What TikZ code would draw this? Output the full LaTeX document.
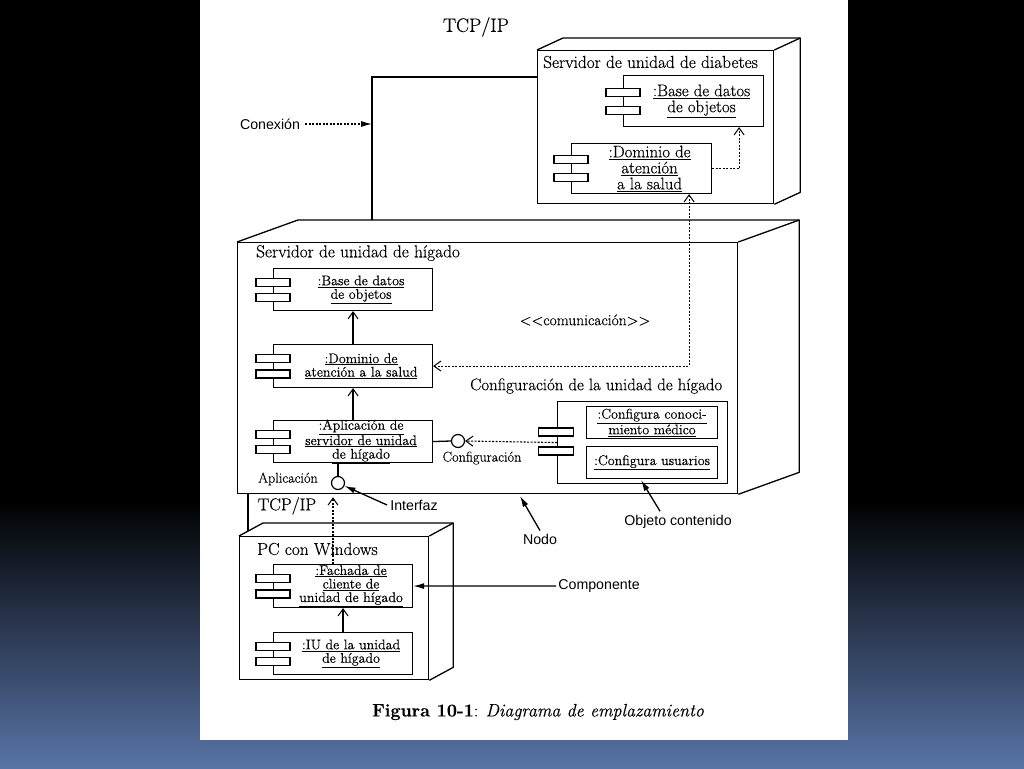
\documentclass[tikz,border=0pt]{standalone}
\usepackage{fontspec}
\setmainfont{Latin Modern Roman}[FakeBold=0.35]
\setsansfont{Liberation Sans}
\usetikzlibrary{arrows.meta,calc}
\definecolor{bgblue}{RGB}{88,116,166}
\newcommand\fTitle{\fontsize{17.3}{19}\selectfont}
\newcommand\fTop{\fontsize{19.5}{22}\selectfont}
\newcommand\fTcp{\fontsize{17.3}{19}\selectfont}
\newcommand\fCompA{\fontsize{16.8}{16}\selectfont}
\newcommand\fCompB{\fontsize{14}{13.5}\selectfont}
\newcommand\fLbl{\fontsize{14.2}{15}\selectfont}
\newcommand\fSans{\fontsize{14.2}{15}\selectfont\sffamily}
\newcommand\fCfg{\fontsize{16.8}{18}\selectfont}
\newcommand\fCom{\fontsize{15.5}{17}\selectfont}
\newcommand\fCap{\fontsize{18}{20}\selectfont}
\newcommand\ul[1]{\underline{#1}}
\tikzset{
  compbox/.style={draw, line width=1.1pt, anchor=north west, inner sep=0pt, align=center, fill=white},
  comptext/.style={inner sep=0pt, align=center},
  barbox/.style={draw, line width=1.1pt, fill=white, minimum width=34pt, minimum height=8pt, inner sep=0pt},
  face/.style={draw, line width=1.3pt, anchor=north west, inner sep=0pt},
  edge3d/.style={line width=1.3pt, line join=round},
  link/.style={line width=1.3pt},
  dep/.style={line width=1.1pt, dash pattern=on 2pt off 1.5pt},
  openhead/.style={-{Straight Barb[length=7pt,width=10pt,line width=1pt]}},
  bothhead/.style={{Straight Barb[length=7pt,width=10pt,line width=1pt]}-{Straight Barb[length=7pt,width=10pt,line width=1pt]}},
  fillhead/.style={-{Latex[length=11pt,width=6pt]}},
  iface/.style={circle, draw, line width=1.2pt, minimum size=13pt, inner sep=0pt, fill=white},
  lbl/.style={font=\fLbl, inner sep=0pt},
  sanslbl/.style={font=\fSans, inner sep=0pt},
}
\newcommand\comp[7]{%
  \node[compbox, minimum width=#4pt, minimum height=#5pt] (#1) at (#2,#3) {};
  \node[comptext, font=#6] (#1-t) at ($(#1.center)+(8,0)$) {#7};
  \node[barbox] (#1-b1) at ($(#1.north west)!0.33!(#1.south west)$) {};
  \node[barbox] (#1-b2) at ($(#1.north west)!0.68!(#1.south west)$) {};
}
\newcommand\nodeBox[7]{%
  \node[face, minimum width=#4pt, minimum height=#5pt] (#1) at (#2,#3) {};
  \draw[edge3d] (#1.north west) -- ++(#6,#7) -- ($(#1.north east)+(#6,#7)$) -- ($(#1.south east)+(#6,#7)$) -- (#1.south east);
  \draw[edge3d] (#1.north east) -- ++(#6,#7);
}
\begin{document}
\begin{tikzpicture}[x=1pt,y=-1pt]
\useasboundingbox (0,0) rectangle (1024,768);
\fill[black] (0,0) rectangle (1024,768);
\shade[top color=black, bottom color=bgblue] (0,500) rectangle (1024,768);
\fill[white] (200,0) rectangle (848,740);

% ---------- nodes (3D boxes) ----------
\nodeBox{diab}{537}{50}{236}{153}{26}{-12}
\nodeBox{hig}{237}{242}{500}{251}{61}{-22}
\nodeBox{pc}{239}{536}{189}{143}{24}{-13}

% ---------- titles ----------
\node[font=\fTop, inner sep=0pt] (tcpTop) at (476,27) {TCP/IP};
\node[font=\fTitle, anchor=west, inner sep=0pt] (tDiab) at (543,62) {Servidor de unidad de diabetes};
\node[font=\fTitle, anchor=west, inner sep=0pt] (tHig) at (256,253) {Servidor de unidad de hígado};
\node[font=\fTitle, anchor=west, inner sep=0pt] (tPC) at (257,549) {PC con Windows};
\node[font=\fTcp, inner sep=0pt] (tcpLow) at (287,506) {TCP/IP};
\node[font=\fCfg, anchor=west, inner sep=0pt] (tCfg) at (470,386) {Configuración de la unidad de hígado};
\node[font=\fCom, inner sep=0pt] (tCom) at (585,320) {<\kern0pt<comunicación>\kern0pt>};

% ---------- components ----------
\comp{dBase}{623}{75}{140}{51}{\fCompA}{\ul{:Base de datos}\\\ul{de objetos}}
\comp{dDom}{571}{143}{140}{50}{\fCompA}{\ul{:Dominio de}\\\ul{atención}\\\ul{a la salud}}
\comp{hBase}{273}{268}{159}{42}{\fCompB}{\ul{:Base de datos}\\\ul{de objetos}}
\comp{hDom}{273}{344}{159}{43}{\fCompB}{\ul{:Dominio de}\\\ul{atención a la salud}}
\comp{hApp}{273}{420}{159}{42}{\fCompB}{\ul{:Aplicación de}\\\ul{servidor de unidad}\\\ul{de hígado}}
\comp{pcF}{273}{564}{139}{43}{\fCompB}{\ul{:Fachada de}\\\ul{cliente de}\\\ul{unidad de hígado}}
\comp{pcIU}{273}{632}{139}{42}{\fCompB}{\ul{:IU de la unidad}\\\ul{de hígado}}

% configuration component with contained objects
\node[compbox, minimum width=170pt, minimum height=82pt] (cfg) at (557,401) {};
\node[compbox, minimum width=131pt, minimum height=32pt, font=\fCompB] (cfgK) at (586,406) {\ul{:Configura conoci-}\\\ul{miento médico}};
\node[compbox, minimum width=131pt, minimum height=32pt, font=\fCompB] (cfgU) at (586,446) {\ul{:Configura usuarios}};

% interfaces
\node[iface] (iconf) at (458,441) {};
\node[iface] (iapp) at (338,483) {};
\node[lbl] (lConf) at (482,458) {Configuración};
\node[lbl] (lApp) at (288,479) {Aplicación};
\draw[link] (hApp.east) -- (iconf.west);
\coordinate (appB) at (338,462);
\draw[link] (appB) -- (iapp.north);
\draw[dep, openhead] (cfg.west) -- (iconf.east);
\node[barbox, minimum width=35pt] (cfg-b1) at (556,432) {};
\node[barbox, minimum width=35pt] (cfg-b2) at (556,451) {};

% ---------- connections ----------
\coordinate (tcpA) at (537,77);
\coordinate (tcpB) at (372,220);
\draw[link] (tcpA) -| (tcpB);
\coordinate (tcpC) at (248,531);
\draw[link] (tcpC) -- (tcpC |- hig.south);

\draw[dep, openhead] (dDom.east) -| ($(dBase.south east)+(-25,0)$);
\draw[dep, bothhead] ($(dDom.south east)+(-23,0)$) |- (hDom.east);
\draw[link, openhead] (hDom.north) -- (hBase.south);
\draw[link, openhead] (hApp.north) -- (hDom.south);
\draw[link, openhead] (pcIU.north) -- (pcF.south);
\coordinate (fT) at (333,564);
\draw[dep, openhead, shorten >=3pt] (fT) -- (fT |- hig.south);

% ---------- annotations ----------
\node[sanslbl] (conexion) at (270,124) {Conexión};
\coordinate (conT) at (372,124);
\draw[dep, fillhead] (conexion.east) ++(5,0) -- (conT);

\node[sanslbl] (interfaz) at (414,505) {Interfaz};
\draw[link, fillhead] (interfaz.west) ++(-3,0) -- (iapp);

\node[sanslbl] (nodo) at (540,539) {Nodo};
\coordinate (nodoT) at (520,496);
\draw[link, fillhead] (nodo.north) ++(0,-3) -- (nodoT);

\node[sanslbl] (objeto) at (678,522) {Objeto contenido};
\coordinate (objT) at (641,480);
\draw[link, fillhead] ($(objeto.north)+(-18,-4)$) -- (objT);

\node[sanslbl] (componente) at (599,586) {Componente};
\draw[link, fillhead] (componente.west) ++(-2,0) -- (pcF.east);

% ---------- caption ----------
\node[font=\fCap, inner sep=0pt] (caption) at (538,712) {\textbf{Figura 10-1}: \textit{Diagrama de emplazamiento}};
\end{tikzpicture}
\end{document}
